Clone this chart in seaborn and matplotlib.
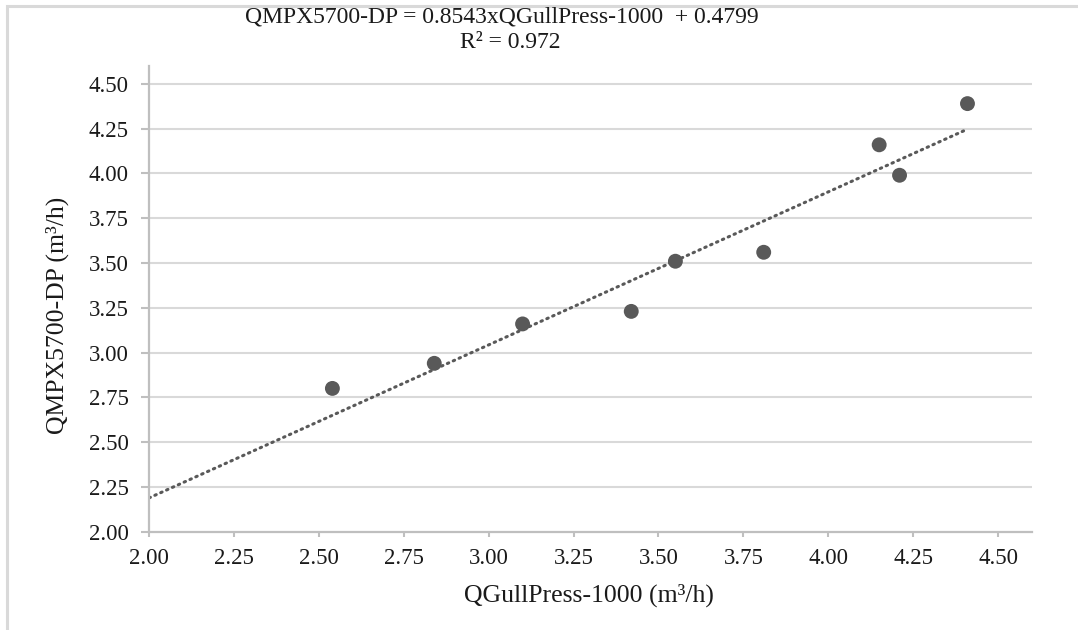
import numpy as np
import pandas as pd
import matplotlib
matplotlib.use("Agg")
import matplotlib.pyplot as plt
import seaborn as sns
from matplotlib.patches import Rectangle

# ---- data ----
x_gull = [2.54, 2.84, 3.10, 3.42, 3.55, 3.81, 4.15, 4.21, 4.41]
y_qmpx = [2.80, 2.94, 3.16, 3.23, 3.51, 3.56, 4.16, 3.99, 4.39]
slope = 0.8543
intercept = 0.4799
r_squared = 0.972
tick_values = [2.00, 2.25, 2.50, 2.75, 3.00, 3.25, 3.50, 3.75, 4.00, 4.25, 4.50]
tick_labels = ["2.00", "2.25", "2.50", "2.75", "3.00", "3.25", "3.50", "3.75", "4.00", "4.25", "4.50"]
x_label = "QGullPress-1000 (m³/h)"
y_label = "QMPX5700-DP (m³/h)"
equation_text = "QMPX5700-DP = 0.8543xQGullPress-1000  + 0.4799"
r2_text = "R² = 0.972"

df = pd.DataFrame({"x": x_gull, "y": y_qmpx})
trend_x = [2.00, max(x_gull)]
trend_df = pd.DataFrame({"x": trend_x, "y": [slope * v + intercept for v in trend_x]})

sns.set_theme(style="white")
plt.rcParams["font.family"] = ["Liberation Serif", "DejaVu Serif"]
plt.rcParams["text.color"] = "#1a1a1a"

fig = plt.figure(figsize=(10.78, 6.30), dpi=100)
ax = fig.add_axes([149 / 1078, 1 - 531.7 / 630, (1032 - 149) / 1078, (531.7 - 66) / 630])

grid_c = "#d9d9d9"
axis_c = "#bfbfbf"
mark_c = "#595959"

for t in tick_values[1:]:
    ax.axhline(t, color=grid_c, lw=1.5, zorder=0)

sns.lineplot(data=trend_df, x="x", y="y", ax=ax, color=mark_c, lw=2.2,
             linestyle=(0, (0.5, 1.6)), zorder=2)
ln = ax.lines[-1]
ln.set_dash_capstyle("round")

sns.scatterplot(data=df, x="x", y="y", ax=ax, color=mark_c, s=115,
                edgecolor="none", zorder=3)

ax.set_xlim(2.0, 4.60)
ax.set_ylim(2.0, 4.60)
ax.set_xticks(tick_values)
ax.set_xticklabels(tick_labels)
ax.set_yticks(tick_values)
ax.set_yticklabels(tick_labels)

for s in ["top", "right"]:
    ax.spines[s].set_visible(False)
for s in ["left", "bottom"]:
    ax.spines[s].set_color(axis_c)
    ax.spines[s].set_linewidth(1.6)

ax.tick_params(axis="both", which="both", direction="out", width=1.5,
               color=axis_c, labelsize=16.5, labelcolor="#1a1a1a",
               bottom=True, left=True)
ax.tick_params(axis="y", length=5.8, pad=9)
ax.tick_params(axis="x", length=3.5, pad=8)

ax.set_xlabel(x_label, fontsize=18.5, color="#1a1a1a")
ax.set_ylabel(y_label, fontsize=18.5, color="#1a1a1a")
ax.xaxis.set_label_coords((589 - 149) / 883, (531.7 - 595) / 465.7)
ax.xaxis.label.set_verticalalignment("center")
ax.yaxis.set_label_coords((57 - 149) / 883, (531.7 - 315) / 465.7)
ax.yaxis.label.set_verticalalignment("center")

fig.text(502 / 1078, 1 - 17 / 630, equation_text, ha="center", va="center", fontsize=17)
fig.text(510 / 1078, 1 - 42 / 630, r2_text, ha="center", va="center", fontsize=17)

# light frame around the chart (left and top edges visible)
fig.patches.append(Rectangle((7 / 1078, -0.05), 1.2, 1 - 6 / 630 + 0.05,
                             transform=fig.transFigure, fill=False,
                             edgecolor="#d9d9d9", lw=2.2, zorder=0))

fig.savefig("out.png", dpi=100)
